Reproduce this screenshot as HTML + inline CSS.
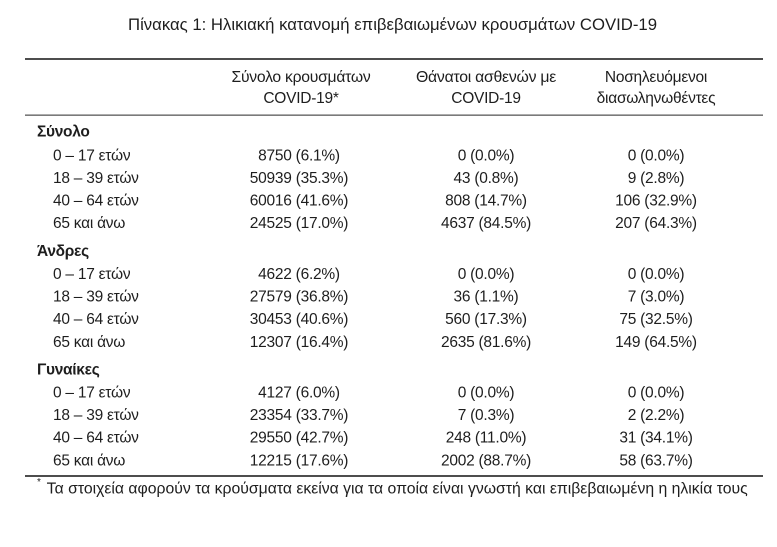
<!DOCTYPE html>
<html>
<head>
<meta charset="utf-8">
<style>
html,body{margin:0;padding:0;background:#fff;}
svg{display:block;}
text{font-family:"Liberation Sans","DejaVu Sans",sans-serif;fill:#1e1e1e;}
.b{font-size:15.5px;letter-spacing:-0.25px;}
.c{text-anchor:middle;}
.g{font-weight:bold;font-size:15.5px;letter-spacing:-0.3px;}
</style>
</head>
<body>
<svg width="777" height="547" viewBox="0 0 777 547" xmlns="http://www.w3.org/2000/svg">
<rect width="777" height="547" fill="#fff"/>
<text x="128" y="30" font-size="16.5" textLength="529" lengthAdjust="spacingAndGlyphs">Πίνακας 1: Ηλικιακή κατανομή επιβεβαιωμένων κρουσμάτων COVID-19</text>

<rect x="25" y="58" width="738" height="2" fill="#4d4d4d"/>
<rect x="25" y="114.5" width="738" height="1.3" fill="#5a5a5a"/>
<rect x="25" y="475" width="738" height="2" fill="#4d4d4d"/>

<g class="b c">
<text x="301" y="82" textLength="139" lengthAdjust="spacingAndGlyphs">Σύνολο κρουσμάτων</text>
<text x="301" y="103">COVID-19*</text>
<text x="486" y="82" textLength="140" lengthAdjust="spacingAndGlyphs">Θάνατοι ασθενών με</text>
<text x="486" y="103">COVID-19</text>
<text x="656" y="82">Νοσηλευόμενοι</text>
<text x="656" y="103">διασωληνωθέντες</text>
</g>

<!-- Group 1 -->
<text class="g" x="37" y="136.5">Σύνολο</text>
<g class="b">
<text x="53" y="160.5">0 – 17 ετών</text>
<text x="53" y="183">18 – 39 ετών</text>
<text x="53" y="205.5">40 – 64 ετών</text>
<text x="53" y="228">65 και άνω</text>
</g>
<g class="b c">
<text x="299" y="160.5">8750 (6.1%)</text>
<text x="299" y="183">50939 (35.3%)</text>
<text x="299" y="205.5">60016 (41.6%)</text>
<text x="299" y="228">24525 (17.0%)</text>
<text x="486" y="160.5">0 (0.0%)</text>
<text x="486" y="183">43 (0.8%)</text>
<text x="486" y="205.5">808 (14.7%)</text>
<text x="486" y="228">4637 (84.5%)</text>
<text x="656" y="160.5">0 (0.0%)</text>
<text x="656" y="183">9 (2.8%)</text>
<text x="656" y="205.5">106 (32.9%)</text>
<text x="656" y="228">207 (64.3%)</text>
</g>

<!-- Group 2 -->
<text class="g" x="37" y="256">Άνδρες</text>
<g class="b">
<text x="53" y="279">0 – 17 ετών</text>
<text x="53" y="301.6">18 – 39 ετών</text>
<text x="53" y="324.2">40 – 64 ετών</text>
<text x="53" y="346.8">65 και άνω</text>
</g>
<g class="b c">
<text x="299" y="279">4622 (6.2%)</text>
<text x="299" y="301.6">27579 (36.8%)</text>
<text x="299" y="324.2">30453 (40.6%)</text>
<text x="299" y="346.8">12307 (16.4%)</text>
<text x="486" y="279">0 (0.0%)</text>
<text x="486" y="301.6">36 (1.1%)</text>
<text x="486" y="324.2">560 (17.3%)</text>
<text x="486" y="346.8">2635 (81.6%)</text>
<text x="656" y="279">0 (0.0%)</text>
<text x="656" y="301.6">7 (3.0%)</text>
<text x="656" y="324.2">75 (32.5%)</text>
<text x="656" y="346.8">149 (64.5%)</text>
</g>

<!-- Group 3 -->
<text class="g" x="37" y="374.5">Γυναίκες</text>
<g class="b">
<text x="53" y="397.3">0 – 17 ετών</text>
<text x="53" y="420">18 – 39 ετών</text>
<text x="53" y="442.6">40 – 64 ετών</text>
<text x="53" y="465.4">65 και άνω</text>
</g>
<g class="b c">
<text x="299" y="397.3">4127 (6.0%)</text>
<text x="299" y="420">23354 (33.7%)</text>
<text x="299" y="442.6">29550 (42.7%)</text>
<text x="299" y="465.4">12215 (17.6%)</text>
<text x="486" y="397.3">0 (0.0%)</text>
<text x="486" y="420">7 (0.3%)</text>
<text x="486" y="442.6">248 (11.0%)</text>
<text x="486" y="465.4">2002 (88.7%)</text>
<text x="656" y="397.3">0 (0.0%)</text>
<text x="656" y="420">2 (2.2%)</text>
<text x="656" y="442.6">31 (34.1%)</text>
<text x="656" y="465.4">58 (63.7%)</text>
</g>

<text x="37" y="485" font-size="10">*</text>
<text x="46.7" y="493.5" font-size="15.5" textLength="701" lengthAdjust="spacingAndGlyphs">Τα στοιχεία αφορούν τα κρούσματα εκείνα για τα οποία είναι γνωστή και επιβεβαιωμένη η ηλικία τους</text>
</svg>
</body>
</html>
